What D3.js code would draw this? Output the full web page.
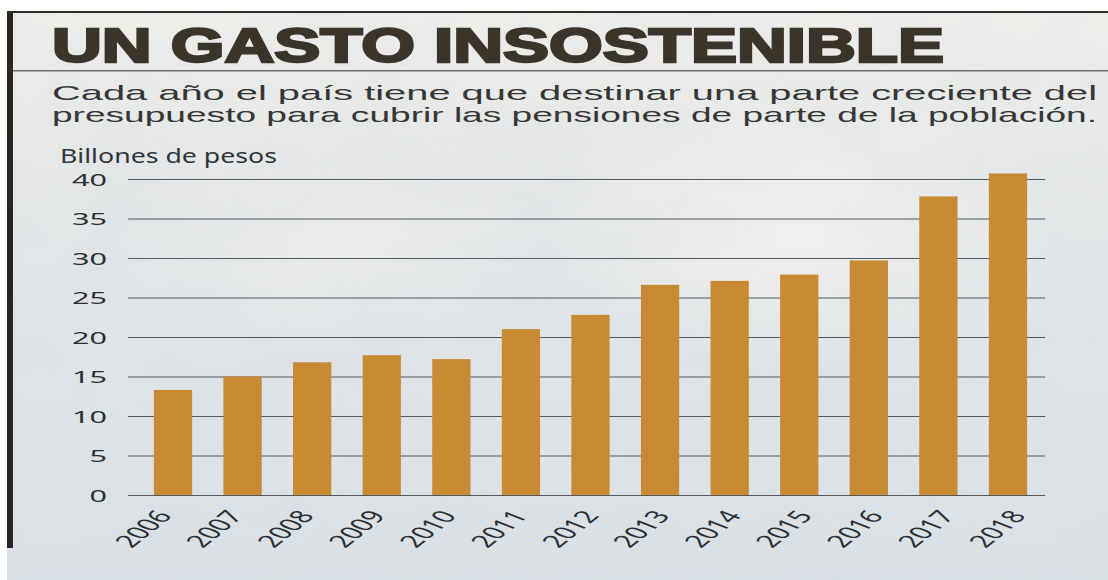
<!DOCTYPE html>
<html>
<head>
<meta charset="utf-8">
<script src="https://cdn.jsdelivr.net/npm/d3@7"></script>
<style>
  html, body { margin: 0; padding: 0; background: #ffffff; }
  svg { display: block; }
</style>
</head>
<body>
<svg id="chart" width="1108" height="580"></svg>
<script>
// Pension spending per year, in billions of pesos
const years = ["2006","2007","2008","2009","2010","2011","2012","2013","2014","2015","2016","2017","2018"];
const gasto = [13.3, 15.0, 16.8, 17.7, 17.2, 21.0, 22.8, 26.6, 27.1, 27.9, 29.7, 37.8, 40.7];
const yTicks = [0, 5, 10, 15, 20, 25, 30, 35, 40];

const titulo = "UN GASTO INSOSTENIBLE";
const bajada = [
  "Cada año el país tiene que destinar una parte creciente del",
  "presupuesto para cubrir las pensiones de parte de la población."
];
const unidad = "Billones de pesos";

const W = 1108, H = 580;
const svg = d3.select("#chart");
const defs = svg.append("defs");

// Paper background: cool light grey, warmer towards the top
const bg = defs.append("linearGradient").attr("id", "paper")
  .attr("x1", 0).attr("y1", 0).attr("x2", 0).attr("y2", 1);
bg.append("stop").attr("offset", "0%").attr("stop-color", "#eeeeeb");
bg.append("stop").attr("offset", "30%").attr("stop-color", "#e5e7e8");
bg.append("stop").attr("offset", "100%").attr("stop-color", "#dae1e6");

const glow = defs.append("radialGradient").attr("id", "glow");
glow.append("stop").attr("offset", "0%").attr("stop-color", "#f4f3f0").attr("stop-opacity", 0.8);
glow.append("stop").attr("offset", "100%").attr("stop-color", "#f4f3f0").attr("stop-opacity", 0);

const grain = defs.append("filter").attr("id", "grain")
  .attr("x", 0).attr("y", 0).attr("width", "100%").attr("height", "100%");
grain.append("feTurbulence").attr("type", "fractalNoise")
  .attr("baseFrequency", "0.012 0.02").attr("numOctaves", 3).attr("seed", 7);
grain.append("feColorMatrix").attr("type", "matrix")
  .attr("values", "0 0 0 0 0.62  0 0 0 0 0.66  0 0 0 0 0.70  0 0 0 -1.1 0.75");

svg.append("rect").attr("width", W).attr("height", H).attr("fill", "#ffffff");
svg.append("rect").attr("x", 7).attr("y", 12).attr("width", W - 7).attr("height", H - 12)
  .attr("fill", "url(#paper)");
svg.append("ellipse").attr("cx", 800).attr("cy", 230).attr("rx", 260).attr("ry", 140)
  .attr("fill", "url(#glow)");
svg.append("ellipse").attr("cx", 330).attr("cy", 250).attr("rx", 220).attr("ry", 90)
  .attr("fill", "url(#glow)").attr("opacity", 0.6);
svg.append("rect").attr("x", 7).attr("y", 12).attr("width", W - 7).attr("height", H - 12)
  .attr("filter", "url(#grain)").attr("opacity", 0.22);

// Frame: top rule, left bar, rule under the headline
svg.append("rect").attr("x", 7).attr("y", 11).attr("width", W - 7).attr("height", 2).attr("fill", "#2e2a26");
svg.append("rect").attr("x", 7).attr("y", 12).attr("width", 6).attr("height", 536).attr("fill", "#2b2622");
svg.append("rect").attr("x", 13).attr("y", 70).attr("width", W - 13).attr("height", 1.5).attr("fill", "#6f6e6b");

// Headline
svg.append("text")
  .attr("x", 52).attr("y", 62)
  .attr("textLength", 892).attr("lengthAdjust", "spacingAndGlyphs")
  .style("font-family", "'Liberation Sans', Arial, sans-serif")
  .style("font-weight", 900).style("font-size", "48px")
  .attr("fill", "#3b3429").attr("stroke", "#3b3429").attr("stroke-width", 2.4)
  .text(titulo);

// Deck, two justified lines
svg.selectAll("text.bajada").data(bajada).join("text")
  .attr("class", "bajada")
  .attr("x", 52).attr("y", (d, i) => 100 + i * 22)
  .attr("textLength", 1045).attr("lengthAdjust", "spacingAndGlyphs")
  .style("font-family", "'Liberation Sans', Arial, sans-serif")
  .style("font-size", "21px")
  .attr("fill", "#363636")
  .text(d => d);

// Unit label
svg.append("text")
  .attr("x", 60).attr("y", 163)
  .attr("textLength", 217).attr("lengthAdjust", "spacingAndGlyphs")
  .style("font-family", "'Noto Sans', 'Open Sans', sans-serif")
  .style("font-size", "19px")
  .attr("fill", "#2f343b")
  .text(unidad);

// Scales
const y = d3.scaleLinear().domain([0, 40]).range([495, 179]);
const x = d3.scaleBand().domain(years).range([133, 1048]).paddingInner(0.45).paddingOuter(0.3);
const xLab = d3.scalePoint().domain(years).range([173, 1027]);
const gridX0 = 128, gridX1 = 1045;
const sx = 1.8;

// Gridlines and y tick labels via a left axis
const yAxis = svg.append("g")
  .attr("transform", `translate(${gridX0},0)`)
  .call(d3.axisLeft(y).tickValues(yTicks).tickSize(-(gridX1 - gridX0)).tickPadding(0));
yAxis.select(".domain").remove();
yAxis.selectAll(".tick line")
  .attr("stroke", "#555a61").attr("stroke-width", 1);
yAxis.selectAll(".tick text")
  .attr("x", null).attr("dy", null)
  .attr("transform", `translate(-21,6) scale(${sx},1)`)
  .attr("text-anchor", "end")
  .style("font-family", "'Noto Sans', 'Open Sans', sans-serif")
  .style("font-size", "17px")
  .attr("fill", "#2b3037");

// Bars
svg.append("g").selectAll("rect").data(years).join("rect")
  .attr("x", d => x(d))
  .attr("width", x.bandwidth())
  .attr("y", (d, i) => y(gasto[i]))
  .attr("height", (d, i) => y(0) - y(gasto[i]))
  .attr("fill", "#c98a34");

// Year labels, rotated
svg.append("g").selectAll("g").data(years).join("g")
  .attr("transform", d => `translate(${xLab(d)},${y(0) + 21}) scale(${sx},1)`)
  .append("text")
  .attr("transform", "rotate(-55)")
  .attr("text-anchor", "end")
  .style("font-family", "'Noto Sans', 'Open Sans', sans-serif")
  .style("font-size", "17.5px")
  .attr("fill", "#2a2f36")
  .text(d => d);
</script>
</body>
</html>
